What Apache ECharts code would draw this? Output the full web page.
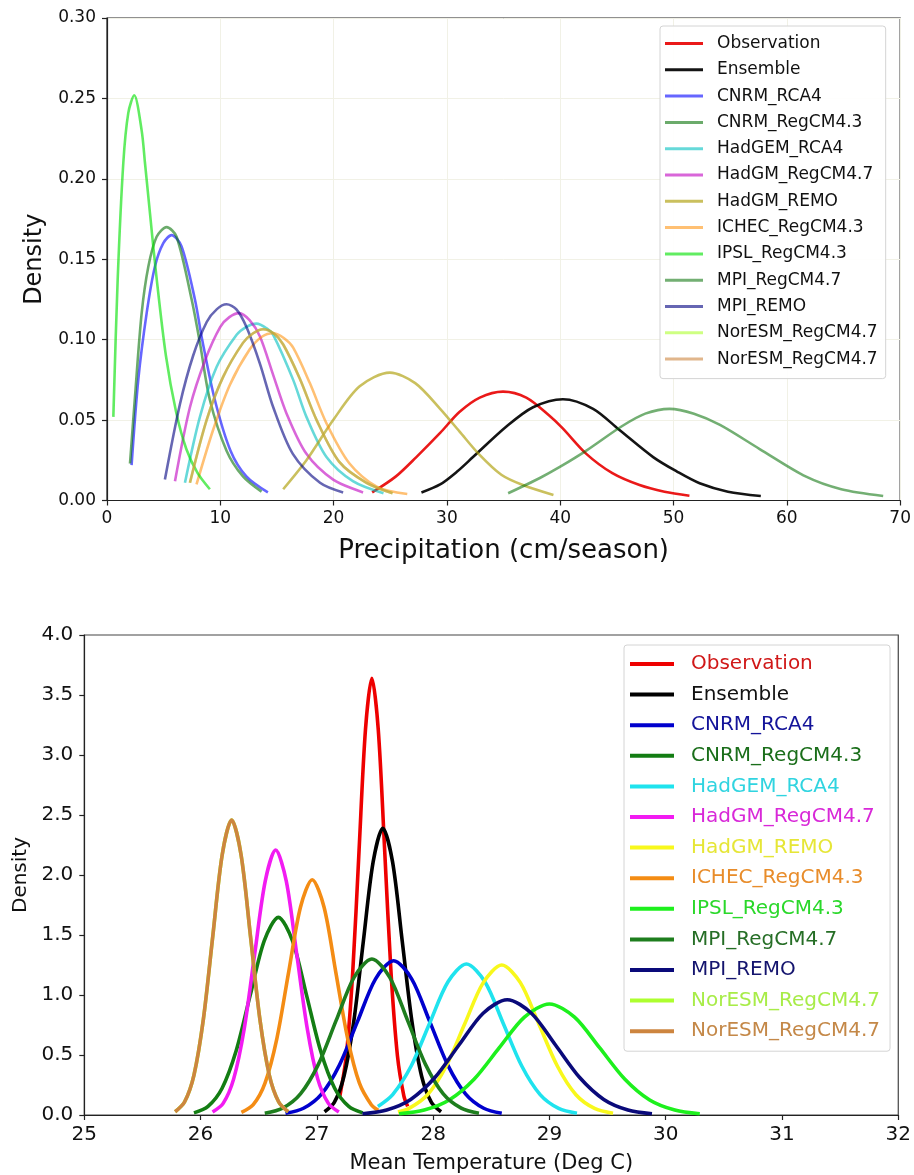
<!DOCTYPE html>
<html><head><meta charset="utf-8">
<script src="https://cdn.jsdelivr.net/npm/echarts@6.0.0/dist/echarts.min.js"></script>
<style>html,body{margin:0;padding:0;background:#fff}#c{width:914px;height:1175px}</style>
</head><body><div id="c"></div>
<script>
// ---------- names ----------
const seriesNames = ['Observation','Ensemble','CNRM_RCA4','CNRM_RegCM4.3','HadGEM_RCA4','HadGM_RegCM4.7','HadGM_REMO','ICHEC_RegCM4.3','IPSL_RegCM4.3','MPI_RegCM4.7','MPI_REMO','NorESM_RegCM4.7','NorESM_RegCM4.7'];

// ---------- precipitation panel [cm/season, density] ----------
const precObservation = [[23.4,0.005],[25.5,0.015],[27.3,0.027],[29.4,0.042],[31.1,0.055],[32.9,0.064],[34.95,0.0677],[37.0,0.064],[39.0,0.053],[40.2,0.045],[42.3,0.029],[44.6,0.017],[47.0,0.0096],[49.2,0.0055],[51.4,0.003]];
const precEnsemble = [[27.75,0.005],[29.4,0.010],[30.9,0.018],[32.3,0.027],[35.25,0.046],[37.6,0.058],[40.24,0.063],[42.9,0.057],[45.2,0.044],[48.2,0.027],[50.3,0.018],[52.3,0.0107],[54.8,0.0055],[57.7,0.0028]];
const precCNRM_RCA4 = [[2.17,0.022],[2.76,0.075],[3.5,0.1165],[4.23,0.1455],[4.97,0.16],[5.7,0.165],[6.58,0.158],[7.76,0.125],[8.4,0.10],[9.52,0.0625],[10.9,0.031],[12.3,0.015],[14.2,0.005]];
const precCNRM_RegCM43 = [[2.03,0.023],[2.47,0.0646],[3.06,0.1165],[3.65,0.1455],[4.38,0.164],[5.26,0.170],[6.14,0.164],[7.47,0.125],[8.2,0.098],[9.08,0.0625],[10.55,0.031],[12.0,0.015],[13.64,0.0055]];
const precHadGEM_RCA4 = [[6.88,0.011],[8.2,0.052],[9.67,0.083],[11.44,0.103],[12.3,0.108],[13.2,0.110],[14.1,0.107],[14.67,0.103],[16.43,0.075],[17.6,0.052],[19.37,0.027],[21.7,0.012],[24.4,0.0045]];
const precHadGM_RegCM47 = [[6.0,0.012],[7.32,0.058],[8.7,0.088],[10.0,0.108],[10.8,0.114],[11.65,0.1165],[12.6,0.112],[13.5,0.102],[14.67,0.078],[15.85,0.054],[17.6,0.029],[19.96,0.013],[22.6,0.005]];
const precHadGM_REMO = [[15.55,0.007],[17.6,0.025],[19.96,0.050],[22.3,0.071],[24.96,0.0795],[27.2,0.073],[29.4,0.057],[31.1,0.043],[32.8,0.029],[34.8,0.016],[36.7,0.0096],[39.4,0.0034]];
const precICHEC_RegCM43 = [[7.9,0.010],[9.37,0.044],[10.85,0.072],[12.6,0.094],[13.7,0.102],[14.67,0.104],[15.6,0.101],[16.43,0.095],[17.9,0.073],[19.37,0.048],[21.4,0.023],[23.8,0.0086],[26.5,0.004]];
const precIPSL_RegCM43 = [[0.56,0.052],[0.94,0.137],[1.44,0.21],[1.88,0.241],[2.4,0.252],[3.06,0.23],[3.35,0.21],[3.8,0.178],[4.35,0.14],[5.2,0.09],[6.1,0.055],[7.0,0.032],[8.0,0.017],[9.08,0.007]];
const precMPI_RegCM47 = [[35.4,0.0045],[38.2,0.014],[40.0,0.021],[42.3,0.031],[45.4,0.046],[47.5,0.054],[49.65,0.057],[51.8,0.054],[54.1,0.047],[57.6,0.032],[61.7,0.0148],[64.8,0.007],[68.5,0.0028]];
const precMPI_REMO = [[5.11,0.013],[6.44,0.06],[7.6,0.09],[8.8,0.111],[9.7,0.119],[10.55,0.122],[11.4,0.119],[12.3,0.108],[13.5,0.085],[14.67,0.058],[16.4,0.029],[18.8,0.011],[20.84,0.005]];
const precNorESM_RegCM47a = [[7.32,0.011],[8.79,0.05],[10.26,0.077],[12.0,0.098],[12.9,0.104],[13.78,0.1065],[14.7,0.104],[15.55,0.097],[17.0,0.076],[18.5,0.050],[20.5,0.024],[22.9,0.011],[25.2,0.0045]];
const precNorESM_RegCM47b = [[7.32,0.011],[8.79,0.05],[10.26,0.077],[12.0,0.098],[12.9,0.104],[13.78,0.1065],[14.7,0.104],[15.55,0.097],[17.0,0.076],[18.5,0.050],[20.5,0.024],[22.9,0.011],[25.2,0.0045]];

// ---------- temperature panel [deg C, density] ----------
const tempObservation = [[27.198,0.160],[27.253,0.493],[27.308,1.182],[27.363,2.208],[27.418,3.212],[27.473,3.64],[27.528,3.212],[27.583,2.208],[27.638,1.182],[27.693,0.493],[27.748,0.160],[27.781,0.072]];
const tempEnsemble = [[27.066,0.027],[27.150,0.105],[27.233,0.323],[27.317,0.776],[27.400,1.450],[27.484,2.109],[27.567,2.39],[27.651,2.109],[27.734,1.450],[27.818,0.776],[27.901,0.323],[27.985,0.105],[28.068,0.027]];
const tempCNRM_RCA4 = [[26.73,0.014],[26.885,0.056],[27.04,0.174],[27.195,0.418],[27.35,0.780],[27.505,1.135],[27.66,1.286],[27.815,1.135],[27.97,0.780],[28.125,0.418],[28.28,0.174],[28.435,0.056],[28.59,0.014]];
const tempCNRM_RegCM43 = [[25.943,0.018],[26.064,0.072],[26.185,0.223],[26.306,0.535],[26.427,0.999],[26.548,1.453],[26.669,1.647],[26.79,1.453],[26.911,0.999],[27.032,0.535],[27.153,0.223],[27.274,0.072],[27.395,0.018]];
const tempHadGEM_RCA4 = [[27.525,0.071],[27.652,0.170],[27.811,0.408],[27.969,0.763],[28.128,1.110],[28.286,1.258],[28.445,1.110],[28.603,0.763],[28.762,0.408],[28.92,0.170],[29.079,0.055],[29.237,0.014]];
const tempHadGM_RegCM47 = [[26.103,0.025],[26.194,0.097],[26.284,0.299],[26.375,0.717],[26.465,1.339],[26.556,1.949],[26.646,2.208],[26.737,1.949],[26.827,1.339],[26.918,0.717],[27.008,0.299],[27.099,0.097],[27.189,0.025]];
const tempHadGM_REMO = [[27.697,0.025],[27.793,0.055],[27.952,0.169],[28.112,0.406],[28.271,0.758],[28.431,1.103],[28.59,1.25],[28.75,1.103],[28.909,0.758],[29.069,0.406],[29.228,0.169],[29.388,0.055],[29.547,0.014]];
const tempICHEC_RegCM43 = [[26.351,0.022],[26.453,0.086],[26.554,0.265],[26.656,0.637],[26.757,1.189],[26.859,1.731],[26.96,1.961],[27.062,1.731],[27.163,1.189],[27.265,0.637],[27.366,0.265],[27.468,0.086],[27.528,0.039]];
const tempIPSL_RegCM43 = [[27.707,0.010],[27.923,0.041],[28.138,0.125],[28.354,0.300],[28.569,0.561],[28.785,0.816],[29.0,0.925],[29.216,0.816],[29.431,0.561],[29.647,0.300],[29.862,0.125],[30.078,0.041],[30.293,0.010]];
const tempMPI_RegCM47 = [[26.552,0.014],[26.706,0.057],[26.859,0.176],[27.013,0.422],[27.166,0.788],[27.32,1.147],[27.473,1.30],[27.627,1.147],[27.78,0.788],[27.934,0.422],[28.087,0.176],[28.241,0.057],[28.394,0.014]];
const tempMPI_REMO = [[27.392,0.011],[27.6,0.042],[27.807,0.130],[28.015,0.312],[28.222,0.583],[28.43,0.848],[28.637,0.961],[28.845,0.848],[29.052,0.583],[29.26,0.312],[29.467,0.130],[29.675,0.042],[29.882,0.011]];
const tempNorESM_RegCM47a = [[25.781,0.027],[25.862,0.108],[25.943,0.333],[26.024,0.798],[26.105,1.491],[26.186,2.169],[26.267,2.458],[26.348,2.169],[26.429,1.491],[26.51,0.798],[26.591,0.333],[26.672,0.108],[26.753,0.027]];
const tempNorESM_RegCM47b = [[25.781,0.027],[25.862,0.108],[25.943,0.333],[26.024,0.798],[26.105,1.491],[26.186,2.169],[26.267,2.458],[26.348,2.169],[26.429,1.491],[26.51,0.798],[26.591,0.333],[26.672,0.108],[26.753,0.027]];

const precCurves = [precObservation,precEnsemble,precCNRM_RCA4,precCNRM_RegCM43,precHadGEM_RCA4,precHadGM_RegCM47,precHadGM_REMO,precICHEC_RegCM43,precIPSL_RegCM43,precMPI_RegCM47,precMPI_REMO,precNorESM_RegCM47a,precNorESM_RegCM47b];
const tempCurves = [tempObservation,tempEnsemble,tempCNRM_RCA4,tempCNRM_RegCM43,tempHadGEM_RCA4,tempHadGM_RegCM47,tempHadGM_REMO,tempICHEC_RegCM43,tempIPSL_RegCM43,tempMPI_RegCM47,tempMPI_REMO,tempNorESM_RegCM47a,tempNorESM_RegCM47b];

// ---------- styles ----------
const precColors = ['rgba(232,0,0,0.9)','rgba(0,0,0,0.92)','rgba(0,0,255,0.6)','rgba(0,110,0,0.58)','rgba(0,191,191,0.6)','rgba(191,0,191,0.6)','rgba(175,160,10,0.66)','rgba(255,140,0,0.55)','rgba(0,225,0,0.62)','rgba(0,110,0,0.55)','rgba(0,0,128,0.6)','rgba(173,255,47,0.6)','rgba(205,133,63,0.6)'];
const tempColors = ['#ee0000','#000000','#0000cd','#137d13','#1fe3ee','#f21bf2','#f8f81c','#f48c14','#1df01d','#1e7e1e','#0a0a7a','#adff2f','#cd853f'];
const tempTextColors = ['#d01818','#111111','#14149a','#1a6e1a','#30d4e0','#d828d8','#e6e636','#e88c2a','#2ad82a','#266e26','#14146e','#a8ec48','#c48848'];
const FONT = 'DejaVu Sans';

const chart = echarts.init(document.getElementById('c'), null, {renderer:'canvas'});
const series = [];
const precIds = [], tempIds = [];
seriesNames.forEach((n,i)=>{
  const pid = n + '|P' + i, tid = n + '|T' + i;
  precIds.push(pid); tempIds.push(tid);
  series.push({name:pid,type:'line',xAxisIndex:0,yAxisIndex:0,data:precCurves[i],symbol:'none',showSymbol:false,smooth:0.3,
    lineStyle:{width:2.6,color:precColors[i]},itemStyle:{color:precColors[i]},emphasis:{disabled:true},z:2+i});
});
seriesNames.forEach((n,i)=>{
  series.push({name:tempIds[i],type:'line',xAxisIndex:1,yAxisIndex:1,data:tempCurves[i],symbol:'none',showSymbol:false,smooth:0.3,
    lineStyle:{width:3.6,color:tempColors[i]},itemStyle:{color:tempColors[i]},emphasis:{disabled:true},z:2+i});
});
const strip = n => n.split('|')[0];
const axisCommon = {axisLine:{show:true,lineStyle:{color:'#222',width:1.2}},axisTick:{show:true,length:5,lineStyle:{color:'#222',width:1.2}}};

chart.setOption({
  animation:false,
  backgroundColor:'#fff',
  grid:[
    {left:107,right:13,top:18,bottom:674.5,show:true,borderColor:'#222',borderWidth:1.2,backgroundColor:'transparent'},
    {left:84.3,right:11.7,top:635,bottom:59,show:true,borderColor:'#444',borderWidth:1.2,backgroundColor:'transparent'}
  ],
  xAxis:[
    Object.assign({type:'value',gridIndex:0,min:0,max:70,interval:10,
      name:'Precipitation (cm/season)',nameLocation:'middle',nameGap:38,
      nameTextStyle:{fontFamily:FONT,fontSize:26,color:'#111'},
      axisLabel:{fontFamily:FONT,fontSize:17,color:'#111',margin:10},
      splitLine:{show:true,lineStyle:{color:'#f1f1e6',width:1}}},axisCommon),
    Object.assign({type:'value',gridIndex:1,min:25,max:32,interval:1,
      name:'Mean Temperature (Deg C)',nameLocation:'middle',nameGap:38,
      nameTextStyle:{fontFamily:FONT,fontSize:21,color:'#111'},
      axisLabel:{fontFamily:FONT,fontSize:20,color:'#111',margin:10},
      splitLine:{show:false}},axisCommon)
  ],
  yAxis:[
    Object.assign({type:'value',gridIndex:0,min:0,max:0.3,interval:0.05,
      name:'Density',nameLocation:'middle',nameGap:60,
      nameTextStyle:{fontFamily:FONT,fontSize:24,color:'#111'},
      axisLabel:{fontFamily:FONT,fontSize:17,color:'#111',margin:11,formatter:v=>v.toFixed(2)},
      splitLine:{show:true,lineStyle:{color:'#f1f1e6',width:1}}},axisCommon),
    Object.assign({type:'value',gridIndex:1,min:0,max:4,interval:0.5,
      name:'Density',nameLocation:'middle',nameGap:46,
      nameTextStyle:{fontFamily:FONT,fontSize:20,color:'#111'},
      axisLabel:{fontFamily:FONT,fontSize:20,color:'#111',margin:11,formatter:v=>v.toFixed(1)},
      splitLine:{show:false}},axisCommon)
  ],
  legend:[
    {orient:'vertical',left:660,top:26,padding:[9,8,11,5],icon:'rect',itemWidth:38,itemHeight:3,itemGap:9.3,
     selectedMode:false,backgroundColor:'rgba(255,255,255,0.9)',borderColor:'#d4d4d4',borderWidth:1,borderRadius:3,
     formatter:strip,textStyle:{fontFamily:FONT,fontSize:17,color:'#111',padding:[0,0,0,9]},
     data:precIds.map(n=>({name:n}))},
    {orient:'vertical',left:624,top:645,padding:[9,10,10,6],icon:'rect',itemWidth:44,itemHeight:4,itemGap:10.6,
     selectedMode:false,backgroundColor:'rgba(255,255,255,0.9)',borderColor:'#d4d4d4',borderWidth:1,borderRadius:3,
     formatter:strip,textStyle:{fontFamily:FONT,fontSize:20,color:'#111',padding:[0,0,0,12]},
     data:tempIds.map((n,i)=>({name:n,textStyle:{color:tempTextColors[i]}}))}
  ],
  series:series
});
</script>
</body></html>
